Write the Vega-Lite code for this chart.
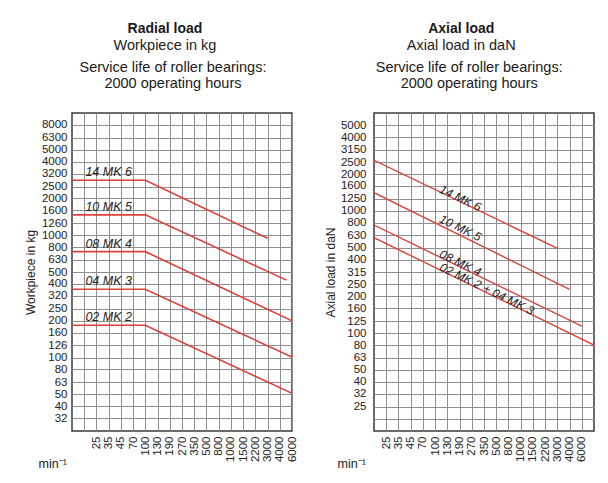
{
  "$schema": "https://vega.github.io/schema/vega-lite/v6.json",
  "background": "white",
  "padding": {"left": 23, "top": 22, "right": 4, "bottom": 2},
  "config": {
    "font": "Liberation Sans",
    "view": {"stroke": "#3a3a3a", "strokeWidth": 1.5},
    "axis": {
      "grid": true,
      "gridColor": "#8f8f8f",
      "gridOpacity": 1,
      "gridWidth": 1,
      "domain": false,
      "ticks": false,
      "tickSize": 0,
      "labelFontSize": 11.5,
      "labelColor": "#222222",
      "labelOverlap": false,
      "labelFlush": false,
      "labelBound": false,
      "titleFontWeight": "normal",
      "titleFontSize": 12,
      "titleColor": "#222222"
    },
    "title": {"color": "#1a1a1a", "subtitleColor": "#222222"},
    "concat": {"spacing": 24}
  },
  "hconcat": [
    {
      "title": {"text": "Radial load", "subtitle": "Workpiece in kg", "fontSize": 14, "fontWeight": "bold", "subtitleFontSize": 14.5, "subtitlePadding": 3, "anchor": "middle", "frame": "bounds", "offset": 6, "dx": 4},
      "vconcat": [
        {
          "title": {"text": ["Service life of roller bearings:", "2000 operating hours"], "fontSize": 14.5, "fontWeight": "normal", "lineHeight": 16, "anchor": "middle", "frame": "bounds", "offset": 22, "dx": 12},
          "width": 220,
          "height": 318,
          "encoding": {
            "x": {
              "field": "rpm", "type": "quantitative",
              "scale": {"type": "log", "domain": [12, 18, 25, 35, 45, 70, 100, 130, 190, 270, 350, 500, 800, 1000, 1500, 2200, 3000, 4000, 6000], "range": [0, 12.222, 24.444, 36.667, 48.889, 61.111, 73.333, 85.556, 97.778, 110, 122.222, 134.444, 146.667, 158.889, 171.111, 183.333, 195.556, 207.778, 220], "nice": false},
              "axis": {"values": [18, 25, 35, 45, 70, 100, 130, 190, 270, 350, 500, 800, 1000, 1500, 2200, 3000, 4000, 6000], "labelExpr": "datum.value == 18 ? '' : datum.label", "format": "d", "labelAngle": -90, "labelAlign": "right", "labelBaseline": "middle", "labelPadding": 5, "title": "min⁻¹", "titleFontSize": 12.5, "titleAlign": "left", "titleAnchor": "start", "titleX": -34, "titleY": 36, "titleBaseline": "alphabetic"}
            },
            "y": {
              "field": "load", "type": "quantitative",
              "scale": {"type": "log", "domain": [25.12, 10000], "nice": false},
              "axis": {"values": [32, 40, 50, 63, 80, 100, 126, 160, 200, 250, 320, 400, 500, 630, 800, 1000, 1260, 1600, 2000, 2500, 3200, 4000, 5000, 6300, 8000], "format": "d", "labelPadding": 5, "title": "Workpiece in kg", "titlePadding": 4}
            }
          },
          "layer": [
            {
              "data": {"values": [
                {"series": "14 MK 6", "rpm": 12, "load": 2820},
                {"series": "14 MK 6", "rpm": 100, "load": 2820},
                {"series": "14 MK 6", "rpm": 3000, "load": 945},
                {"series": "10 MK 5", "rpm": 12, "load": 1470},
                {"series": "10 MK 5", "rpm": 100, "load": 1470},
                {"series": "10 MK 5", "rpm": 5000, "load": 430},
                {"series": "08 MK 4", "rpm": 12, "load": 735},
                {"series": "08 MK 4", "rpm": 100, "load": 735},
                {"series": "08 MK 4", "rpm": 6000, "load": 200},
                {"series": "04 MK 3", "rpm": 12, "load": 362},
                {"series": "04 MK 3", "rpm": 100, "load": 362},
                {"series": "04 MK 3", "rpm": 6000, "load": 101},
                {"series": "02 MK 2", "rpm": 12, "load": 184},
                {"series": "02 MK 2", "rpm": 100, "load": 184},
                {"series": "02 MK 2", "rpm": 6000, "load": 51}
              ]},
              "mark": {"type": "line", "color": "#d9423b", "strokeWidth": 1.6, "clip": true},
              "encoding": {"detail": {"field": "series"}}
            },
            {
              "data": {"values": [
                {"series": "14 MK 6", "rpm": 35, "load": 2820},
                {"series": "10 MK 5", "rpm": 35, "load": 1470},
                {"series": "08 MK 4", "rpm": 35, "load": 735},
                {"series": "04 MK 3", "rpm": 35, "load": 362},
                {"series": "02 MK 2", "rpm": 35, "load": 184}
              ]},
              "mark": {"type": "text", "fontStyle": "italic", "fontSize": 12.5, "color": "#222222", "dy": -8},
              "encoding": {"text": {"field": "series"}}
            }
          ]
        }
      ]
    },
    {
      "title": {"text": "Axial load", "subtitle": "Axial load in daN", "fontSize": 14, "fontWeight": "bold", "subtitleFontSize": 14.5, "subtitlePadding": 3, "anchor": "middle", "frame": "bounds", "offset": 6, "dx": 2},
      "vconcat": [
        {
          "title": {"text": ["Service life of roller bearings:", "2000 operating hours"], "fontSize": 14.5, "fontWeight": "normal", "lineHeight": 16, "anchor": "middle", "frame": "bounds", "offset": 22, "dx": 10},
          "width": 220,
          "height": 318,
          "encoding": {
            "x": {
              "field": "rpm", "type": "quantitative",
              "scale": {"type": "log", "domain": [18, 25, 35, 45, 70, 100, 130, 190, 270, 350, 500, 800, 1000, 1500, 2200, 3000, 4000, 6000, 9000], "range": [0, 12.222, 24.444, 36.667, 48.889, 61.111, 73.333, 85.556, 97.778, 110, 122.222, 134.444, 146.667, 158.889, 171.111, 183.333, 195.556, 207.778, 220], "nice": false},
              "axis": {"values": [25, 35, 45, 70, 100, 130, 190, 270, 350, 500, 800, 1000, 1500, 2200, 3000, 4000, 6000], "format": "d", "labelAngle": -90, "labelAlign": "right", "labelBaseline": "middle", "labelPadding": 5, "title": "min⁻¹", "titleFontSize": 12.5, "titleAlign": "left", "titleAnchor": "start", "titleX": -37, "titleY": 36, "titleBaseline": "alphabetic"}
            },
            "y": {
              "field": "load", "type": "quantitative",
              "scale": {"type": "log", "domain": [15.85, 6310], "nice": false},
              "axis": {"values": [20, 25, 32, 40, 50, 63, 80, 100, 125, 160, 200, 250, 315, 400, 500, 630, 800, 1000, 1250, 1600, 2000, 2500, 3150, 4000, 5000], "labelExpr": "datum.value == 20 ? '' : datum.label", "format": "d", "labelPadding": 8, "title": "Axial load in daN", "titlePadding": 3}
            }
          },
          "layer": [
            {
              "data": {"values": [
                {"series": "14 MK 6", "rpm": 18, "load": 2590},
                {"series": "14 MK 6", "rpm": 3000, "load": 494},
                {"series": "10 MK 5", "rpm": 18, "load": 1407},
                {"series": "10 MK 5", "rpm": 4000, "load": 228},
                {"series": "08 MK 4", "rpm": 18, "load": 766},
                {"series": "08 MK 4", "rpm": 6000, "load": 114},
                {"series": "02 MK 2 + 04 MK 3", "rpm": 18, "load": 603},
                {"series": "02 MK 2 + 04 MK 3", "rpm": 9000, "load": 80}
              ]},
              "mark": {"type": "line", "color": "#d9423b", "strokeWidth": 1.4, "clip": true},
              "encoding": {"detail": {"field": "series"}}
            },
            {
              "data": {"values": [
                {"series": "14 MK 6", "rpm": 195, "load": 1270},
                {"series": "10 MK 5", "rpm": 195, "load": 725},
                {"series": "08 MK 4", "rpm": 195, "load": 375},
                {"series": "02 MK 2 + 04 MK 3", "rpm": 380, "load": 230}
              ]},
              "mark": {"type": "text", "fontStyle": "italic", "fontSize": 12, "color": "#222222", "angle": 26},
              "encoding": {"text": {"field": "series"}}
            }
          ]
        }
      ]
    }
  ]
}
